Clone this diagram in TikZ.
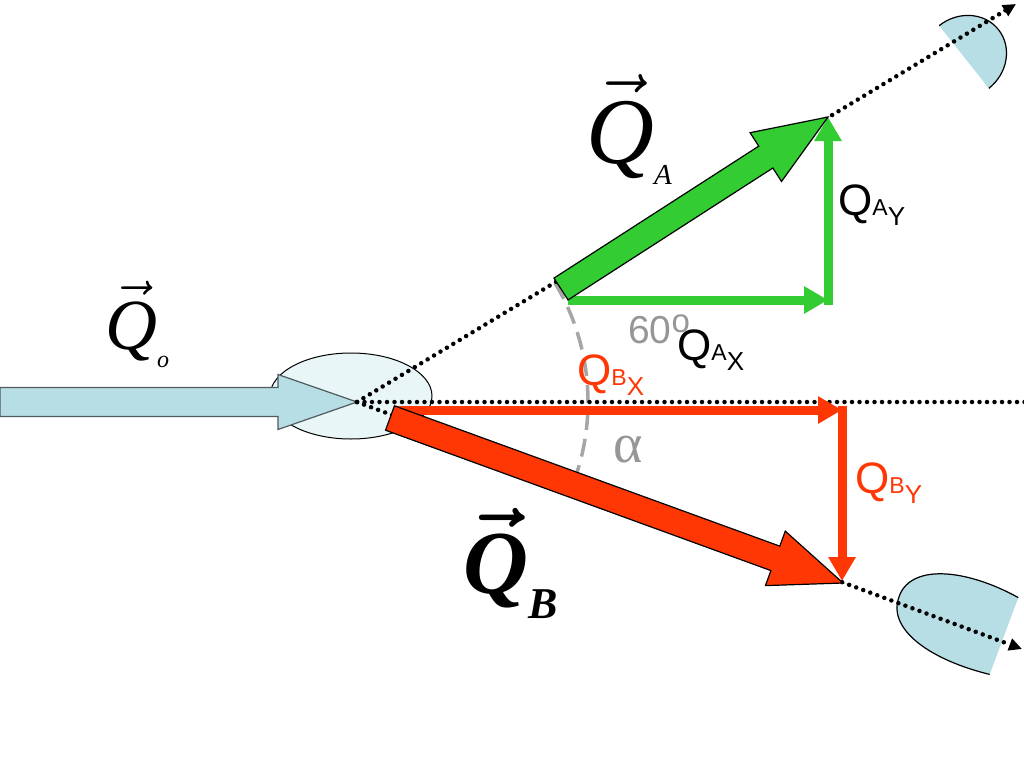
\documentclass[tikz,border=0pt]{standalone}
\usepackage{fix-cm}
\usepackage{fontspec}
\setmainfont{Liberation Serif}
\setsansfont{Liberation Sans}
\usetikzlibrary{calc,arrows.meta,shapes.geometric}

\definecolor{beamblue}{RGB}{183,222,228}
\definecolor{lensblue}{RGB}{232,246,248}
\definecolor{vecgreen}{RGB}{51,204,51}
\definecolor{vecred}{RGB}{255,55,5}
\definecolor{anglegray}{RGB}{150,150,150}

% wide arrow: style, tail, tip, shaft half width, head half width, head length
\newcommand{\fatarrow}[6]{%
  \coordinate (fa-base) at ($(#3)!#6!(#2)$);
  \draw[#1] ($(#2)!#4!90:(#3)$) -- ($(fa-base)!#4!90:(#3)$) -- ($(fa-base)!#5!90:(#3)$)
    -- (#3) -- ($(fa-base)!#5!-90:(#3)$) -- ($(fa-base)!#4!-90:(#3)$) -- ($(#2)!#4!-90:(#3)$) -- cycle;}
\newcommand{\complabel}[2]{{\fontsize{44}{44}\selectfont Q}{\fontsize{23}{23}\selectfont #1}\raisebox{-10pt}{\fontsize{26}{26}\selectfont #2}}
\newcommand{\veclabel}[5]{{\fontsize{#2}{#2}\selectfont #1$\vec{\mbox{Q}}$}\raisebox{-#4}{\fontsize{#3}{#3}\selectfont #1#5}}

\begin{document}
\begin{tikzpicture}[x=1pt, y=-1pt,
    ray/.style={line width=4.5pt, line cap=round, dash pattern=on 0pt off 7.5pt, -{Triangle[length=13pt,width=12pt]}},
    comp/.style={line width=9pt, -{Triangle[length=24pt,width=26pt]}},
    detector/.style={fill=beamblue},
    lbl/.style={anchor=base west, inner sep=0pt}]
    \useasboundingbox (0,0) rectangle (1024,768);

    \coordinate (O) at (357,402);
    \coordinate (A) at (828,117);
    \coordinate (B) at (843,583);
    \coordinate (Ax) at (828,300);
    \coordinate (Bx) at (842,410);

    % detectors
    \begin{scope}[shift={(964,57)}, rotate=38.4]
        \fill[detector] (0,-40) arc[start angle=-90, end angle=90, x radius=44, y radius=40] -- cycle;
        \draw[line width=1.2pt] (0,-40) arc[start angle=-90, end angle=90, x radius=44, y radius=40];
    \end{scope}
    \begin{scope}[shift={(1004,636)}, rotate=-20.4]
        \fill[detector] (0,-41) .. controls (-60,-50) and (-115,-35) .. (-112,2)
            .. controls (-110,35) and (-60,48) .. (0,41) -- cycle;
        \draw[line width=1.2pt] (0,-41) .. controls (-60,-50) and (-115,-35) .. (-112,2)
            .. controls (-110,35) and (-60,48) .. (0,41);
    \end{scope}

    % lens and incoming beam
    \node[ellipse, draw, line width=1pt, fill=lensblue, minimum width=162pt, minimum height=86pt, inner sep=0pt] (lens) at (351,396) {};
    \coordinate (in) at (0,402);
    \fatarrow{fill=beamblue, draw={rgb,255:red,80;green,90;blue,95}, line width=1.2pt}{in}{O}{14.5pt}{27.5pt}{79pt}

    % angle
    \draw[anglegray!85, line width=3.5pt, dash pattern=on 18pt off 9pt] (O) ++(-31:231) arc[start angle=-31, end angle=20, radius=231];

    % dotted rays
    \coordinate (endA) at (1016,4);
    \coordinate (endB) at (1022,649);
    \coordinate (endO) at (1026,402);
    \draw[ray] (O) -- (endA);
    \draw[ray] (O) -- (endB);
    \draw[line width=4.5pt, dash pattern=on 0pt off 7.5pt, line cap=round] (O) -- (endO);

    % components
    \coordinate (Ga) at (568,300);
    \coordinate (Ra) at (395,410);
    \draw[comp, vecgreen] (Ga) -- (Ax);
    \draw[comp, vecgreen, shorten <=-4.5pt] (Ax) -- (Ax |- A);
    \draw[comp, vecred] (Ra) -- (Bx);
    \draw[comp, vecred, shorten <=-4.5pt, shorten >=2pt] (Bx) -- (Bx |- B);

    % scattered vectors
    \coordinate (Gt) at (561,289);
    \coordinate (Rt) at (390,418);
    \fatarrow{fill=vecgreen, draw=black, line width=1.2pt}{Gt}{A}{13pt}{29pt}{74pt}
    \fatarrow{fill=vecred, draw=black, line width=1.2pt}{Rt}{B}{13pt}{29pt}{72pt}

    % labels
    \node[lbl, text=anglegray, font=\sffamily\fontsize{39}{39}\selectfont] (sixty) at (628,343) {60\raisebox{11pt}{\fontsize{33}{33}\selectfont o}};
    \node[lbl, font=\sffamily] (QAx) at (677,360) {\complabel{A}{X}};
    \node[lbl, font=\sffamily, text=vecred] (QBx) at (577,385) {\complabel{B}{X}};
    \node[lbl, font=\sffamily] (QAy) at (838,215) {\complabel{A}{Y}};
    \node[lbl, font=\sffamily, text=vecred] (QBy) at (855,493) {\complabel{B}{Y}};
    \node[lbl, text=anglegray, font=\fontsize{56}{56}\selectfont] (alpha) at (613,462) {α};

    \node[lbl] (QA) at (586,163) {\veclabel{\itshape}{94}{29}{21pt}{A}};
    \node[lbl] (Qo) at (105,349) {\veclabel{\itshape}{72}{24}{18pt}{o}};
    \node[lbl] (QB) at (463,593) {\veclabel{\bfseries\itshape\boldmath}{90}{44}{25pt}{B}};
\end{tikzpicture}
\end{document}
